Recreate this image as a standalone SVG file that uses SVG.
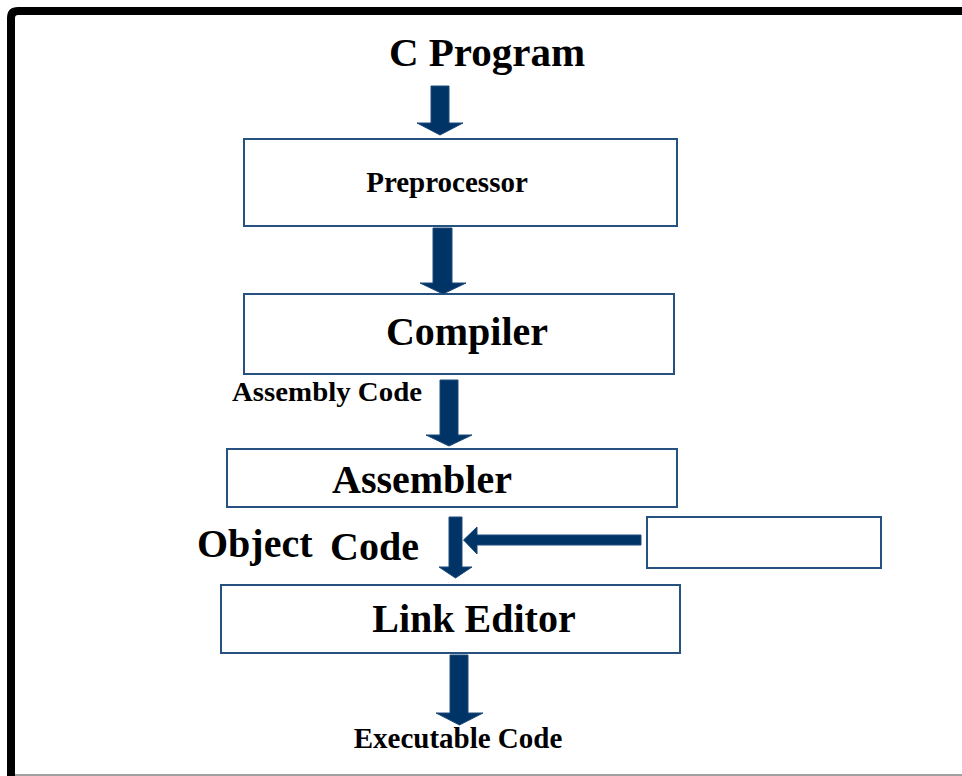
<svg xmlns="http://www.w3.org/2000/svg" width="962" height="776" viewBox="0 0 962 776">
<style>
.t{font-family:"Liberation Serif","Times New Roman",serif;font-weight:bold;fill:#000}
.box{fill:#fff;stroke:#25527f;stroke-width:2}
.arr{fill:#003366;stroke:#1f4a7a;stroke-width:1}
</style>
<rect x="0" y="0" width="962" height="776" fill="#fff"/>
<path d="M11,776 V18 Q11,11 18,11 H962" fill="none" stroke="#000" stroke-width="8"/>
<line x1="15" y1="775" x2="962" y2="775" stroke="#a0a0a0" stroke-width="2"/>

<text class="t" x="487" y="66" font-size="41" text-anchor="middle">C Program</text>

<g id="preprocessor">
<rect class="box" x="244" y="139" width="433" height="87"/>
<text class="t" x="447" y="192" font-size="29" text-anchor="middle">Preprocessor</text>
</g>
<g id="compiler">
<rect class="box" x="244" y="294" width="430" height="80"/>
<text class="t" x="467" y="345" font-size="40" text-anchor="middle">Compiler</text>
</g>
<g id="assembler">
<rect class="box" x="227" y="449" width="450" height="58"/>
<text class="t" x="422" y="493" font-size="40" text-anchor="middle">Assembler</text>
</g>
<g id="library">
<rect class="box" x="647" y="517" width="234" height="51"/>
</g>
<g id="linkeditor">
<rect class="box" x="221" y="585" width="459" height="68"/>
<text class="t" x="474" y="632" font-size="40" text-anchor="middle">Link Editor</text>
</g>

<g id="labels">
<text class="t" x="232" y="401" font-size="27" textLength="190" lengthAdjust="spacingAndGlyphs">Assembly Code</text>
<text class="t" x="197" y="557" font-size="40">Object</text>
<text class="t" x="330" y="560" font-size="40">Code</text>
<text class="t" x="458" y="748" font-size="29" text-anchor="middle">Executable Code</text>
</g>

<g id="connectors">
<path class="arr" d="M431,86 H449 V123 H463 L440,135 L417,123 H431 Z"/>
<path class="arr" d="M433,228 H452 V283 H466 L443,294 L420,283 H433 Z"/>
<path class="arr" d="M440,380 H458 V435 H472 L449,446 L426,435 H440 Z"/>
<path class="arr" d="M449,517 H462 V567 H472 L455.5,578 L439,567 H449 Z"/>
<path class="arr" d="M641,535 V545 H477 V554 L463.5,540 L477,527 V535 Z"/>
<path class="arr" d="M450,655 H468 V713 H483 L459.5,725 L436,713 H450 Z"/>
</g>
</svg>
